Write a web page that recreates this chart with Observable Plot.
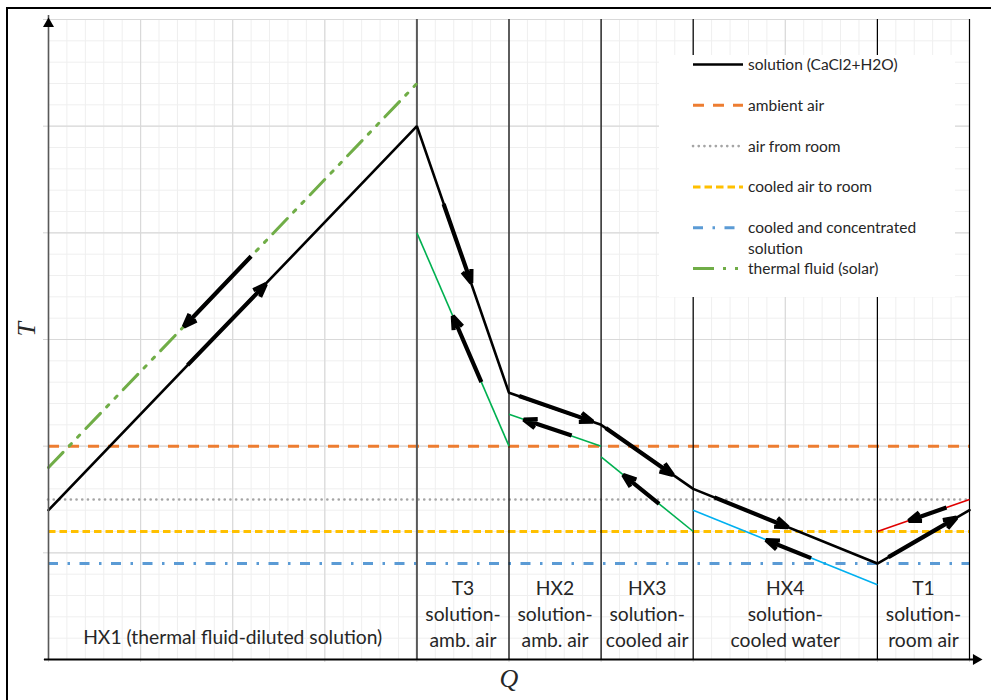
<!DOCTYPE html>
<html>
<head>
<meta charset="utf-8">
<script src="https://cdn.jsdelivr.net/npm/d3@7"></script>
<script src="https://cdn.jsdelivr.net/npm/@observablehq/plot@0.6"></script>
<style>
  html, body { margin: 0; padding: 0; background: #fff; }
  #wrap { position: relative; width: 991px; height: 700px; overflow: hidden; background: #fff; }
  #frame { position: absolute; left: 6px; top: 7px; width: 1200px; height: 900px;
           border-left: 2px solid #000; border-top: 2px solid #000; }
  #chart { position: absolute; left: 0; top: 0; }
  #legend { position: absolute; left: 659px; top: 55px; }
</style>
</head>
<body>
<div id="wrap">
  <div id="frame"></div>
  <div id="chart"></div>
</div>
<script>
// ---------------- data ----------------
// heat-exchange regions along Q (boundaries) and their labels
const regionBounds = [0, 4, 5, 6, 7, 9, 10];
const regionLabels = [
  "HX1 (thermal fluid-diluted solution)",
  "T3\nsolution-\namb. air",
  "HX2\nsolution-\namb. air",
  "HX3\nsolution-\ncooled air",
  "HX4\nsolution-\ncooled water",
  "T1\nsolution-\nroom air"
];

// solution (CaCl2+H2O) path
const solutionQ = [0, 4, 5, 6, 7, 9, 10];
const solutionT = [1.4, 5.0, 2.5, 2.2, 1.6, 0.9, 1.4];

// thermal fluid (solar)
const thermalQ = [0, 4];
const thermalT = [1.8, 5.4];

// counter-streams inside each exchanger
const streamQ1 = [4, 5, 6, 7, 9];
const streamQ2 = [5, 6, 7, 9, 10];
const streamT1 = [4.0, 2.3, 1.9, 1.4, 1.2];
const streamT2 = [2.0, 2.0, 1.2, 0.7, 1.5];
const streamKind = ["air", "air", "air", "water", "room"];

// constant temperature levels
const levelNames = ["ambient air", "air from room", "cooled air to room", "cooled and concentrated solution"];
const levelT = [2.0, 1.5, 1.2, 0.9];

// flow direction arrows (from -> to)
const arrowQ1 = [1.51, 2.20, 4.29, 4.70, 5.11, 5.68, 6.05, 6.63, 7.23, 8.28, 9.12, 9.75];
const arrowT1 = [2.76, 3.78, 4.27, 2.60, 2.47, 2.10, 2.17, 1.46, 1.52, 0.95, 0.96, 1.425];
const arrowQ2 = [2.36, 1.47, 4.59, 4.39, 5.91, 5.16, 6.78, 6.24, 8.03, 7.79, 9.86, 9.34];
const arrowT2 = [3.52, 3.12, 3.53, 3.22, 2.23, 2.25, 1.73, 1.73, 1.24, 1.12, 1.33, 1.30];

// legend entries
const legendNames = ["solution (CaCl2+H2O)", "ambient air", "air from room", "cooled air to room",
                     "cooled and concentrated\nsolution", "thermal fluid (solar)"];

// ---------------- styles ----------------
const FONT = "Lato, 'Open Sans', sans-serif";
const streamColor = {air: "#00b050", water: "#00b0f0", room: "#e00000"};
const levelStyle = {
  "ambient air": {stroke: "#ed7d31", width: 3, dash: "11,9", cap: "butt"},
  "air from room": {stroke: "#a5a5a5", width: 2.6, dash: "0.1,5.6", cap: "round"},
  "cooled air to room": {stroke: "#ffc000", width: 3, dash: "7.5,4", cap: "butt"},
  "cooled and concentrated solution": {stroke: "#5b9bd5", width: 3, dash: "10,9.5,2.5,9.5", cap: "butt"}
};
const solutionStyle = {stroke: "#000", width: 2.6, dash: null, cap: "butt"};
const thermalStyle = {stroke: "#70ad47", width: 3, dash: "21,9,3,9,3,9", cap: "butt"};
const legendStyles = [solutionStyle, levelStyle["ambient air"], levelStyle["air from room"],
  levelStyle["cooled air to room"], levelStyle["cooled and concentrated solution"], thermalStyle];

// ---------------- tables ----------------
const solution = solutionQ.map((q, i) => ({q, t: solutionT[i]}));
const thermal = thermalQ.map((q, i) => ({q, t: thermalT[i]}));
const streams = streamQ1.map((q, i) => ({q1: q, q2: streamQ2[i], t1: streamT1[i], t2: streamT2[i], kind: streamKind[i]}));
const levels = levelNames.map((name, i) => ({name, t: levelT[i]}));
const arrows = arrowQ1.map((q, i) => ({q1: q, t1: arrowT1[i], q2: arrowQ2[i], t2: arrowT2[i]}));
const labels = regionLabels.map((label, i) => ({label, q: (regionBounds[i] + regionBounds[i + 1]) / 2, multi: label.includes("\n")}));
const separators = regionBounds.slice(1);

const minorQ = d3.range(0, 10.0001, 0.2);
const minorT = d3.range(0, 6.0001, 0.2);
const majorQ = d3.range(0, 11);
const majorT = d3.range(0, 7);

const labelStyle = {x: "q", text: "label", frameAnchor: "bottom", lineAnchor: "bottom",
  fontSize: 19.3, lineHeight: 1.33, fill: "#262626", fontFamily: FONT};

const chart = Plot.plot({
  width: 991,
  height: 700,
  marginLeft: 48,
  marginRight: 22,
  marginTop: 19,
  marginBottom: 41,
  style: {background: "transparent", color: "#d4d4d4", fontFamily: FONT, overflow: "visible"},
  x: {domain: [0, 10], ticks: 10, tickSize: 3, tickFormat: () => "", label: null},
  y: {domain: [0, 6], ticks: 6, tickSize: 5, tickFormat: () => "", label: null},
  marks: [
    // grid
    Plot.ruleX(minorQ, {stroke: "#efefef", strokeWidth: 1}),
    Plot.ruleY(minorT, {stroke: "#efefef", strokeWidth: 1}),
    Plot.ruleX(majorQ, {stroke: "#d9d9d9", strokeWidth: 1.2}),
    Plot.ruleY(majorT, {stroke: "#d9d9d9", strokeWidth: 1.2}),
    // horizontal levels
    ...levels.map(d => {
      const s = levelStyle[d.name];
      return Plot.ruleY([d], {y: "t", stroke: s.stroke, strokeWidth: s.width, strokeDasharray: s.dash, strokeLinecap: s.cap});
    }),
    // region separators
    Plot.ruleX(separators, {filter: q => q === 4, stroke: "#595959", strokeWidth: 2}),
    Plot.ruleX(separators, {filter: q => q !== 4, stroke: "#000", strokeWidth: 1.2}),
    // counter-streams
    Plot.link(streams, {x1: "q1", y1: "t1", x2: "q2", y2: "t2", stroke: d => streamColor[d.kind], strokeWidth: 1.6}),
    // thermal fluid
    Plot.line(thermal, {x: "q", y: "t", stroke: thermalStyle.stroke, strokeWidth: thermalStyle.width, strokeDasharray: thermalStyle.dash}),
    // solution
    Plot.line(solution, {x: "q", y: "t", stroke: "#000", strokeWidth: solutionStyle.width, strokeLinejoin: "miter"}),
    // flow arrows
    Plot.arrow(arrows, {x1: "q1", y1: "t1", x2: "q2", y2: "t2", stroke: "#000", strokeWidth: 4.2, headLength: 5, headAngle: 40, strokeLinejoin: "miter", strokeLinecap: "butt"}),
    // axes
    Plot.ruleX([0], {stroke: "#595959", strokeWidth: 1.6, insetTop: -4}),
    Plot.ruleY([0], {stroke: "#000", strokeWidth: 2, insetLeft: -4, insetRight: -8}),
    Plot.dot([{q: 0, t: 6}], {x: "q", y: "t", symbol: "triangle", r: 4.1, fill: "#000", stroke: null, dy: 4.4}),
    Plot.dot([{q: 10, t: 0}], {x: "q", y: "t", symbol: "triangle", r: 4.1, fill: "#000", stroke: null, rotate: 90, dx: 6.6}),
    // region labels
    Plot.text(labels, {...labelStyle, filter: d => !d.multi, dy: -16}),
    Plot.text(labels, {...labelStyle, filter: d => d.multi, dy: -13}),
    // axis titles
    Plot.text(["T"], {frameAnchor: "left", dx: -22, dy: -3, rotate: -90, text: d => d, fontSize: 26, fontStyle: "italic",
      fontFamily: "'Liberation Serif', serif", fill: "#262626"}),
    Plot.text(["Q"], {frameAnchor: "bottom", dy: 27, text: d => d, fontSize: 26, fontStyle: "italic",
      fontFamily: "'Liberation Serif', serif", fill: "#262626"})
  ]
});
document.getElementById("chart").appendChild(chart);

// ---------------- legend ----------------
const lw = 296, lh = 242;
const leg = d3.select("#wrap").append("svg")
  .attr("id", "legend").attr("width", lw).attr("height", lh);
leg.append("rect").attr("width", lw).attr("height", lh).attr("fill", "#fff");
const rowStep = 40.8, row0 = 9.5;
legendNames.forEach((name, i) => {
  const s = legendStyles[i];
  const y = row0 + i * rowStep;
  leg.append("line").attr("x1", 34).attr("x2", 84).attr("y1", y).attr("y2", y)
    .attr("stroke", s.stroke).attr("stroke-width", s.width)
    .attr("stroke-dasharray", s.dash).attr("stroke-linecap", s.cap);
  const t = leg.append("text").attr("x", 89).attr("y", y)
    .attr("font-family", FONT).attr("font-size", 15.5).attr("fill", "#262626");
  name.split("\n").forEach((part, j) => {
    t.append("tspan").attr("x", 89).attr("dy", j === 0 ? "0.35em" : "1.33em").text(part);
  });
});
</script>
</body>
</html>
